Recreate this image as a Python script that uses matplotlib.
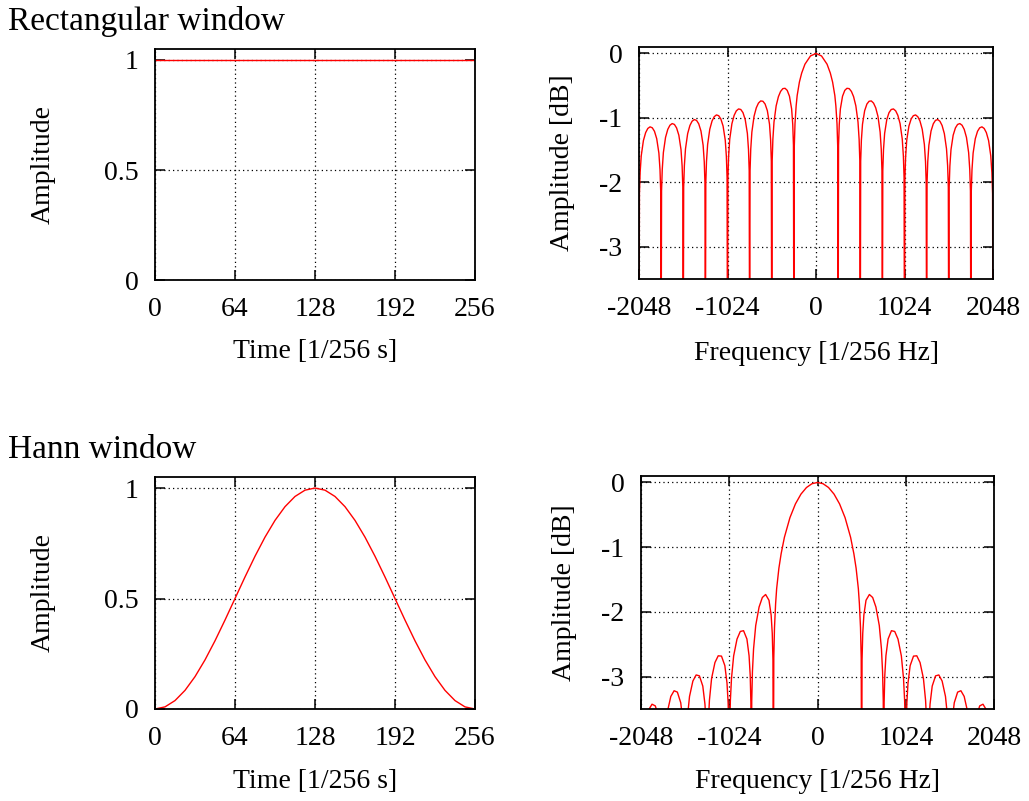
import numpy as np
import matplotlib
matplotlib.use('Agg')
import matplotlib.pyplot as plt

plt.rcParams['font.family'] = ['Liberation Serif', 'DejaVu Serif']

# ---------------- data ----------------
time_ticks = [0, 64, 128, 192, 256]
time_ticklabels = ['0', '64', '128', '192', '256']
amp_ticks = [0, 0.5, 1]
amp_ticklabels = ['0', '0.5', '1']
freq_ticks = [-2048, -1024, 0, 1024, 2048]
freq_ticklabels = ['-2048', '-1024', '0', '1024', '2048']
db_ticks = [0, -1, -2, -3]
db_ticklabels = ['0', '-1', '-2', '-3']

titles = ['Rectangular window', 'Hann window']
time_label = 'Time [1/256 s]'
freq_label = 'Frequency [1/256 Hz]'
amp_label = 'Amplitude'
db_label = 'Amplitude [dB]'

# rectangular window (time)
rect_time = [0, 256]
rect_amp = [1, 1]

# Hann window (time), read every 8 samples
hann_time = [0, 8, 16, 24, 32, 40, 48, 56, 64, 72, 80, 88, 96, 104, 112, 120, 128,
             136, 144, 152, 160, 168, 176, 184, 192, 200, 208, 216, 224, 232, 240, 248, 256]
hann_amp = [0.0, 0.0096, 0.0381, 0.0843, 0.1464, 0.2222, 0.3087, 0.4025, 0.5,
            0.5975, 0.6913, 0.7778, 0.8536, 0.9157, 0.9619, 0.9904, 1.0,
            0.9904, 0.9619, 0.9157, 0.8536, 0.7778, 0.6913, 0.5975, 0.5,
            0.4025, 0.3087, 0.2222, 0.1464, 0.0843, 0.0381, 0.0096, 0.0]

# rectangular window spectrum, right half (0 .. 2048); nulls drawn below the axis
rect_freq_half = [
    0, 64, 128, 166, 192, 218, 230, 243, 251, 256,
    261, 269, 282, 307, 333, 358, 384, 410, 435, 461, 486, 499, 507, 512,
    517, 525, 538, 563, 589, 614, 640, 666, 691, 717, 742, 755, 763, 768,
    773, 781, 794, 819, 845, 870, 896, 922, 947, 973, 998, 1011, 1019, 1024,
    1029, 1037, 1050, 1075, 1101, 1126, 1152, 1178, 1203, 1229, 1254, 1267, 1275, 1280,
    1285, 1293, 1306, 1331, 1357, 1382, 1408, 1434, 1459, 1485, 1510, 1523, 1531, 1536,
    1541, 1549, 1562, 1587, 1613, 1638, 1664, 1690, 1715, 1741, 1766, 1779, 1787, 1792,
    1797, 1805, 1818, 1843, 1869, 1894, 1920, 1946, 1971, 1997, 2022, 2035, 2043, 2048]
rect_db_half = [
    0.0, -0.039, -0.167, -0.306, -0.444, -0.654, -0.817, -1.089, -1.437, -5.0,
    -1.424, -1.104, -0.861, -0.664, -0.573, -0.541, -0.546, -0.590, -0.671, -0.813, -1.064, -1.334, -1.669, -5.0,
    -1.672, -1.348, -1.098, -0.888, -0.785, -0.742, -0.737, -0.771, -0.844, -0.977, -1.220, -1.486, -1.819, -5.0,
    -1.820, -1.494, -1.242, -1.026, -0.918, -0.870, -0.861, -0.891, -0.960, -1.090, -1.329, -1.593, -1.925, -5.0,
    -1.927, -1.600, -1.346, -1.127, -1.017, -0.966, -0.954, -0.982, -1.049, -1.176, -1.413, -1.676, -2.008, -5.0,
    -2.008, -1.680, -1.425, -1.204, -1.092, -1.039, -1.026, -1.052, -1.118, -1.244, -1.480, -1.742, -2.074, -5.0,
    -2.075, -1.748, -1.492, -1.269, -1.156, -1.102, -1.088, -1.114, -1.178, -1.303, -1.538, -1.801, -2.132, -5.0,
    -2.131, -1.803, -1.546, -1.323, -1.208, -1.154, -1.139, -1.164, -1.228, -1.352, -1.587, -1.849, -2.180, -5.0]

# Hann window spectrum, right half (0 .. 2048)
hann_freq_half = [
    0, 64, 128, 192, 256, 320, 384, 422, 448, 474, 486, 499, 507, 512,
    517, 525, 538, 563, 602, 640, 678, 717, 742, 755, 763, 768,
    773, 781, 794, 819, 858, 896, 934, 973, 998, 1011, 1019, 1024,
    1029, 1037, 1050, 1075, 1114, 1152, 1190, 1229, 1254, 1267, 1275, 1280,
    1285, 1293, 1306, 1331, 1370, 1408, 1446, 1485, 1510, 1523, 1531, 1536,
    1541, 1549, 1562, 1587, 1626, 1664, 1702, 1741, 1766, 1779, 1787, 1792,
    1797, 1805, 1818, 1843, 1882, 1920, 1958, 1997, 2022, 2035, 2043, 2048]
hann_db_half = [
    0.0, -0.019, -0.078, -0.180, -0.331, -0.544, -0.847, -1.101, -1.325, -1.641, -1.873, -2.244, -2.707, -5.0,
    -2.742, -2.332, -2.048, -1.820, -1.731, -1.777, -1.925, -2.211, -2.573, -2.925, -3.377, -5.0,
    -3.397, -2.977, -2.677, -2.419, -2.290, -2.302, -2.420, -2.680, -3.026, -3.370, -3.817, -5.0,
    -3.832, -3.407, -3.101, -2.830, -2.683, -2.678, -2.782, -3.028, -3.365, -3.705, -4.150, -5.0,
    -4.162, -3.735, -3.424, -3.146, -2.988, -2.974, -3.068, -3.306, -3.638, -3.975, -4.418, -5.0,
    -4.430, -3.999, -3.686, -3.403, -3.239, -3.218, -3.306, -3.538, -3.866, -4.200, -4.640, -5.0,
    -4.650, -4.230, -3.907, -3.621, -3.452, -3.426, -3.510, -3.737, -4.060, -4.400, -4.800, -5.0]


def mirror(f, v):
    f = np.asarray(f, float)
    v = np.asarray(v, float)
    return np.concatenate([-f[:0:-1], f]), np.concatenate([v[:0:-1], v])


rect_freq, rect_db = mirror(rect_freq_half, rect_db_half)
hann_freq, hann_db = mirror(hann_freq_half, hann_db_half)

# ---------------- figure ----------------
W, H = 1029, 801
fig = plt.figure(figsize=(W / 100, H / 100), dpi=100)


def box(l, t, r, b):
    return [l / W, 1 - b / H, (r - l) / W, (b - t) / H]


FS = 20
LINE = dict(color='#ff0000', linewidth=1.0)


def style(ax, xticks, xtl, yticks, ytl, xlim, ylim):
    ax.set_xlim(xlim)
    ax.set_ylim(ylim)
    ax.set_xticks(xticks)
    ax.set_xticklabels(xtl)
    ax.set_yticks(yticks)
    ax.set_yticklabels(ytl)
    ax.tick_params(direction='in', length=7, width=1.1, top=True, right=True,
                   labelsize=FS, color='black')
    ax.tick_params(axis='x', pad=12)
    ax.tick_params(axis='y', pad=12)
    ax.grid(True, color='black', linestyle=(0, (1, 2.5)), linewidth=0.9)
    for s in ax.spines.values():
        s.set_linewidth(1.3)
    ax.set_axisbelow(True)


ax1 = fig.add_axes(box(155, 49, 475, 280))
ax1.plot(rect_time, rect_amp, **LINE)
style(ax1, time_ticks, time_ticklabels, amp_ticks, amp_ticklabels, (0, 256), (0, 1.05))
ax1.set_xlabel(time_label, fontsize=FS)
ax1.set_ylabel(amp_label, fontsize=FS)
ax1.xaxis.set_label_coords(0.5, -0.257)
ax1.yaxis.set_label_coords(-0.31, 0.5)

ax2 = fig.add_axes(box(639, 47, 993, 279))
ax2.plot(rect_freq, rect_db, **LINE)
style(ax2, freq_ticks, freq_ticklabels, db_ticks, db_ticklabels, (-2048, 2048), (-3.5, 0.1))
ax2.set_xlabel(freq_label, fontsize=FS)
ax2.set_ylabel(db_label, fontsize=FS)
ax2.xaxis.set_label_coords(0.5, -0.268)
ax2.yaxis.set_label_coords(-0.18, 0.5)

ax3 = fig.add_axes(box(155, 477, 475, 709))
ax3.plot(hann_time, hann_amp, **LINE)
style(ax3, time_ticks, time_ticklabels, amp_ticks, amp_ticklabels, (0, 256), (0, 1.05))
ax3.set_xlabel(time_label, fontsize=FS)
ax3.set_ylabel(amp_label, fontsize=FS)
ax3.xaxis.set_label_coords(0.5, -0.26)
ax3.yaxis.set_label_coords(-0.31, 0.5)

ax4 = fig.add_axes(box(641, 476, 994, 709))
ax4.plot(hann_freq, hann_db, **LINE)
style(ax4, freq_ticks, freq_ticklabels, db_ticks, db_ticklabels, (-2048, 2048), (-3.5, 0.1))
ax4.set_xlabel(freq_label, fontsize=FS)
ax4.set_ylabel(db_label, fontsize=FS)
ax4.xaxis.set_label_coords(0.5, -0.256)
ax4.yaxis.set_label_coords(-0.18, 0.5)

fig.text(8 / W, 1 - 30 / H, titles[0], fontsize=24, va='baseline', ha='left')
fig.text(8 / W, 1 - 458 / H, titles[1], fontsize=24, va='baseline', ha='left')

fig.savefig('out.png', dpi=100)
